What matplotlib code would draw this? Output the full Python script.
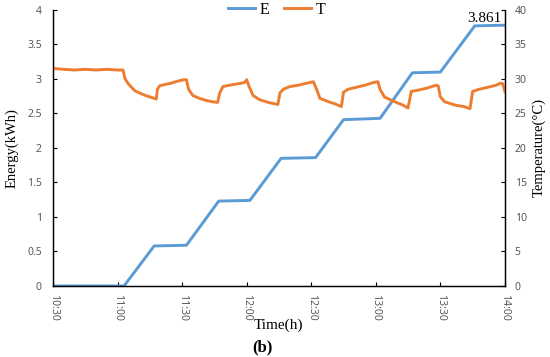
import matplotlib.pyplot as plt

# minutes after 10:30
e_time = [0, 33, 47, 62, 77, 91.5, 106, 122, 135, 152, 167, 180, 196, 210]
e_kwh = [0, 0, 0.58, 0.59, 1.23, 1.24, 1.85, 1.86, 2.41, 2.43, 3.09, 3.10, 3.77, 3.78]

t_time = [0, 1, 5, 10, 15, 20, 25, 30, 32.5, 33.5, 35, 38, 40, 43, 46, 48,
          48.5, 49.5, 52, 55, 58, 61, 62, 63, 65, 68, 71, 74, 76.5,
          77.5, 79, 82, 86, 89, 90, 91, 93, 96, 100, 104.5,
          105.5, 107, 110, 114, 118, 121, 122.5, 124, 128, 131, 134,
          135, 137, 141, 145, 149, 151, 152, 154, 158, 162, 165,
          166.5, 170, 174, 178, 179, 180, 182, 187, 191, 193.8,
          195, 198, 202, 206, 208, 209, 210]
t_temp = [31.6, 31.5, 31.4, 31.3, 31.4, 31.3, 31.4, 31.3, 31.3, 30.0, 29.3, 28.3, 28.0, 27.6, 27.3, 27.1,
          28.5, 29.0, 29.2, 29.4, 29.7, 29.9, 29.9, 28.5, 27.6, 27.2, 26.9, 26.7, 26.6,
          28.0, 28.9, 29.1, 29.3, 29.5, 29.9, 29.0, 27.6, 27.0, 26.6, 26.3,
          28.0, 28.5, 28.9, 29.1, 29.4, 29.6, 28.5, 27.2, 26.7, 26.4, 26.0,
          28.1, 28.5, 28.8, 29.1, 29.5, 29.6, 28.5, 27.4, 26.8, 26.3, 25.8,
          28.2, 28.4, 28.7, 29.1, 29.0, 27.4, 26.7, 26.2, 26.0, 25.7,
          28.2, 28.5, 28.8, 29.1, 29.4, 29.3, 28.2]

x_ticks = [0, 30, 60, 90, 120, 150, 180, 210]
x_labels = ["10:30", "11:00", "11:30", "12:00", "12:30", "13:00", "13:30", "14:00"]

blue = "#5B9BD5"
orange = "#ED7D31"
grey = "#595959"
serif = "Liberation Serif"

fig = plt.figure(figsize=(5.5, 3.57), dpi=100)
ax = fig.add_axes([0.0964, 0.199, 0.8216, 0.773])
ax2 = ax.twinx()

l1, = ax.plot(e_time, e_kwh, color=blue, lw=2.1, label="E")
l2, = ax2.plot(t_time, t_temp, color=orange, lw=2.1, label="T")

ax.set_xlim(0, 210)
ax.set_ylim(0, 4)
ax2.set_ylim(0, 40)
ax.set_xticks(x_ticks)
ax.set_xticklabels(x_labels, rotation=-90)
ax.set_yticks([0, 0.5, 1, 1.5, 2, 2.5, 3, 3.5, 4])
ax.set_yticklabels(["0", "0.5", "1", "1.5", "2", "2.5", "3", "3.5", "4"])
ax2.set_yticks(range(0, 41, 5))

for a in (ax, ax2):
    a.tick_params(direction="in", length=3, width=0.8, labelsize=7.5, labelcolor=grey)
    for sp in a.spines.values():
        sp.set_linewidth(0.9)
    a.spines["top"].set_visible(False)
ax.tick_params(axis="y", pad=8)
ax.tick_params(axis="x", pad=6)
ax2.tick_params(axis="y", pad=7)
for lab in ax.get_xticklabels() + ax.get_yticklabels() + ax2.get_yticklabels():
    lab.set_family("Noto Sans")

ax.set_ylabel("Energy(kWh)", family=serif, fontsize=10.5, labelpad=6)
ax2.set_ylabel("Temperature(°C)", family=serif, fontsize=10.5, labelpad=4)
ax.set_xlabel("Time(h)", family=serif, fontsize=11, labelpad=-2)
fig.text(0.477, 0.028, "(b)", family=serif, fontsize=12, fontweight="bold", ha="center", va="center")

ax.text(208.6, 3.83, "3.861", family=serif, fontsize=11, ha="right", va="baseline")

ax.legend(handles=[l1, l2], loc="center", bbox_to_anchor=(0.495, 1.0), ncol=2, frameon=False,
          prop={"family": serif, "size": 11.5}, handlelength=1.7, columnspacing=0.9, handletextpad=0.3)

fig.savefig("out.png", dpi=100)
